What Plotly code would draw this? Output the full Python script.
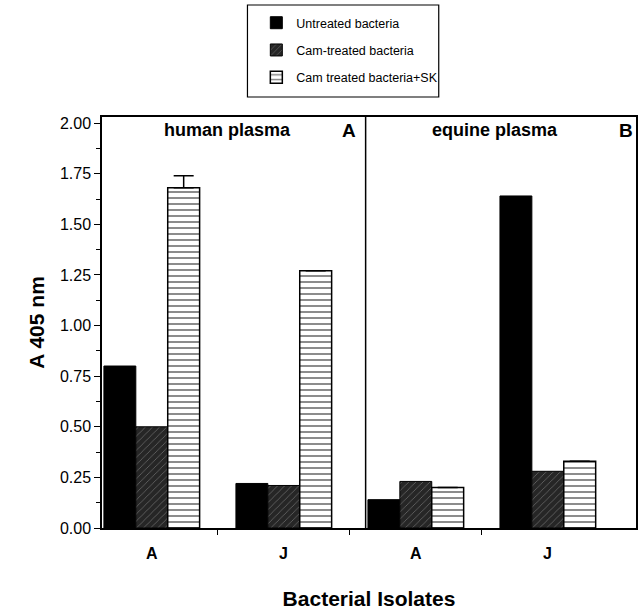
import plotly.graph_objects as go

groups = ["A", "J", "A", "J"]
group_pos = [0, 1, 2, 3]
untreated = [0.80, 0.22, 0.14, 1.64]
cam_treated = [0.50, 0.21, 0.23, 0.28]
cam_sk = [1.68, 1.27, 0.20, 0.33]
cam_sk_err = [0.06, 0, 0, 0]
yticks = [0.00, 0.25, 0.50, 0.75, 1.00, 1.25, 1.50, 1.75, 2.00]
panel_titles = ["human plasma", "equine plasma"]
panel_letters = ["A", "B"]

FONT = "Arial, Liberation Sans, sans-serif"

fig = go.Figure()
fig.add_trace(go.Bar(
    x=group_pos, y=untreated, name="Untreated bacteria", legendgroup="g1",
    marker=dict(color="black", line=dict(color="black", width=1)),
))
fig.add_trace(go.Bar(
    x=group_pos, y=cam_treated, name="Cam-treated bacteria", legendgroup="g2",
    marker=dict(color="#262626", line=dict(color="black", width=1),
                pattern=dict(shape="/", fgcolor="#b0b0b0", bgcolor="#262626",
                             size=5, solidity=0.15)),
))
fig.add_trace(go.Bar(
    x=group_pos, y=cam_sk, name="Cam treated bacteria+SK", legendgroup="g3",
    marker=dict(color="white", line=dict(color="black", width=1.5),
                pattern=dict(shape="-", fgcolor="black", bgcolor="white",
                             size=6, solidity=0.3)),
    error_y=dict(type="data", array=cam_sk_err, arrayminus=[0, 0, 0, 0],
                 symmetric=False, color="black", thickness=1.5, width=10),
))

# Divider between panels
fig.add_shape(type="line", xref="x", yref="y", x0=1.62, x1=1.62, y0=0, y1=2.03,
              line=dict(color="black", width=1.5))

# Legend frame
fig.add_shape(type="rect", xref="paper", yref="paper", x0=0.2724, x1=0.6306,
              y0=1.0487, y1=1.2725, line=dict(color="black", width=1.2),
              fillcolor="rgba(0,0,0,0)")

# Group labels
for p, g in zip(group_pos, groups):
    fig.add_annotation(x=p, y=-0.061, xref="x", yref="paper", text=f"<b>{g}</b>",
                       showarrow=False, yanchor="middle",
                       font=dict(family=FONT, size=16, color="black"))

# Panel titles
fig.add_annotation(x=0.57, y=1.0, xref="x", yref="paper", text=f"<b>{panel_titles[0]}</b>",
                   showarrow=False, yanchor="top", yshift=-1,
                   font=dict(family=FONT, size=18, color="black"))
fig.add_annotation(x=1.495, y=1.0, xref="x", yref="paper", text=f"<b>{panel_letters[0]}</b>",
                   showarrow=False, yanchor="top", yshift=-1,
                   font=dict(family=FONT, size=19, color="black"))
fig.add_annotation(x=2.6, y=1.0, xref="x", yref="paper", text=f"<b>{panel_titles[1]}</b>",
                   showarrow=False, yanchor="top", yshift=-1,
                   font=dict(family=FONT, size=18, color="black"))
fig.add_annotation(x=3.59, y=1.0, xref="x", yref="paper", text=f"<b>{panel_letters[1]}</b>",
                   showarrow=False, yanchor="top", yshift=-1,
                   font=dict(family=FONT, size=19, color="black"))

fig.update_layout(
    width=639, height=613,
    margin=dict(l=102, r=1, t=117, b=85),
    paper_bgcolor="white", plot_bgcolor="white",
    barmode="group", bargap=0.275, bargroupgap=0,
    font=dict(family=FONT, color="black"),
    showlegend=True,
    legend=dict(x=0.289, y=1.265, xanchor="left", yanchor="top",
                borderwidth=0, bgcolor="rgba(0,0,0,0)",
                font=dict(family=FONT, size=12.5, color="black"),
                tracegroupgap=8, itemwidth=30),
    xaxis=dict(range=[-0.377, 3.668], tickvals=[0.5, 1.5, 2.5], ticktext=["", "", ""],
               ticks="outside", ticklen=5, tickcolor="black", showgrid=False,
               zeroline=False, showline=True, linecolor="black", linewidth=1.5,
               mirror=True,
               title=dict(text="<b>Bacterial Isolates</b>", standoff=55,
                          font=dict(family=FONT, size=21, color="black"))),
    yaxis=dict(range=[0, 2.03], tickvals=yticks, ticktext=[f"{v:.2f}" for v in yticks],
               ticks="outside", ticklen=6, tickcolor="black", showgrid=False,
               zeroline=False, showline=True, linecolor="black", linewidth=1.5,
               mirror=True, tickfont=dict(family=FONT, size=16, color="black"),
               minor=dict(dtick=0.125, tick0=0, ticks="outside", ticklen=4, tickcolor="black"),
               title=dict(text="<b>A 405 nm</b>", standoff=10,
                          font=dict(family=FONT, size=21, color="black"))),
)

fig.write_html("out.html")
